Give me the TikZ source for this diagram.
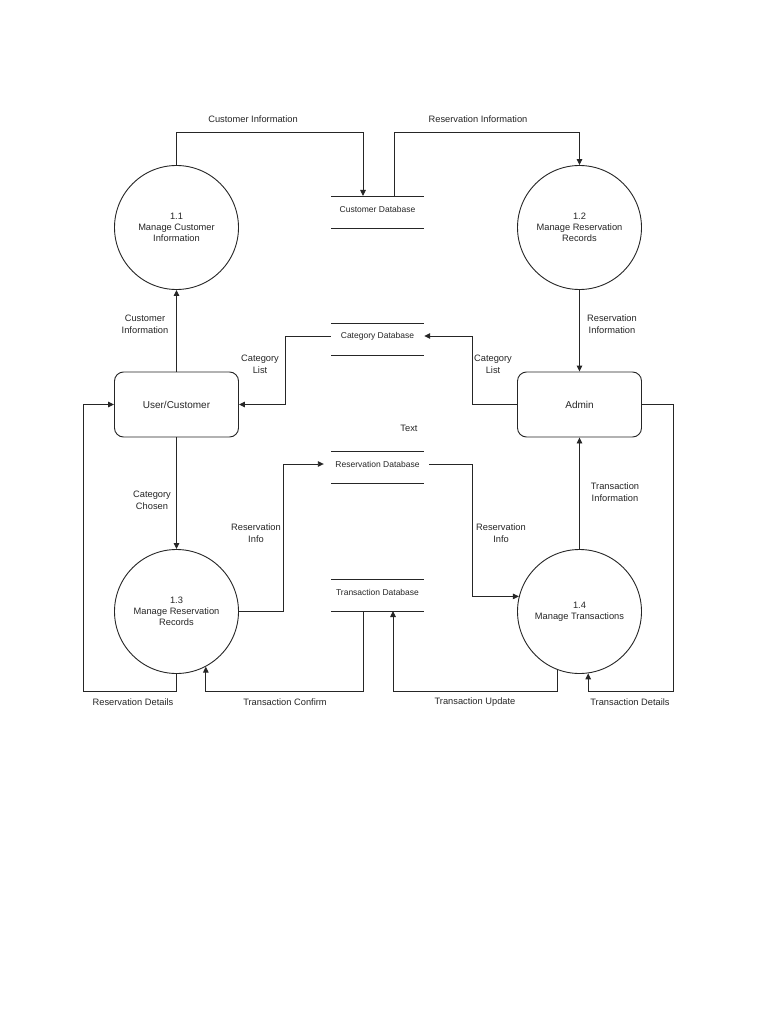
\documentclass[tikz,border=0pt]{standalone}
\usepackage{fontspec}
\setmainfont{Liberation Sans}
\usetikzlibrary{arrows.meta,calc}
\begin{document}
\begin{tikzpicture}[x=1pt,y=-1pt,
  every node/.style={text=black!85},
  flow/.style={draw=black!85, line width=0.9pt, -{Triangle[length=6pt,width=5.5pt]}},
  plain/.style={draw=black!85, line width=0.9pt},
  proc/.style={circle, draw=black!85, line width=0.9pt, minimum size=124pt, inner sep=0pt, align=center, font=\fontsize{9.3}{11}\selectfont},
  ent/.style={rectangle, rounded corners=9pt, draw=black!85, line width=0.9pt, minimum width=124pt, minimum height=65pt, font=\fontsize{10}{12}\selectfont},
  db/.style={minimum width=93pt, minimum height=14pt, inner sep=0pt, font=\fontsize{8.5}{10}\selectfont},
  lbl/.style={align=center, font=\fontsize{9.3}{12}\selectfont, inner sep=0pt}]
\fill[white] (0,0) rectangle (768,1024);
\useasboundingbox (0,0) rectangle (768,1024);

% processes
\node[proc] (c11) at (176.5,227.5) {1.1\\Manage Customer\\Information};
\node[proc] (c12) at (579.5,227.5) {1.2\\Manage Reservation\\Records};
\node[proc] (c13) at (176.5,611.5) {1.3\\Manage Reservation\\Records};
\node[proc] (c14) at (579.5,611.5) {1.4\\Manage Transactions};

% entities
\node[ent] (user) at (176.5,404.5) {User/Customer};
\node[ent] (admin) at (579.5,404.5) {Admin};

% data stores
\node[db] (cdb) at (377.5,209) {Customer Database};
\node[db] (catdb) at (377.5,336) {Category Database};
\node[db] (rdb) at (377.5,464) {Reservation Database};
\node[db] (tdb) at (377.5,592) {Transaction Database};
\foreach \n in {cdb,catdb,rdb,tdb}{
  \draw[plain] ($(\n.center)+(-46.5,-13)$) -- ++(93,0);
  \draw[plain] ($(\n.center)+(-46.5,19)$) -- ++(93,0);
}

% helper coordinates
\coordinate (ytop) at (0,132);
\coordinate (ybot) at (0,691);
\coordinate (cdbin) at ($(cdb.center)+(-14.5,-13)$);
\coordinate (cdbout) at ($(cdb.center)+(16.5,-13)$);
\coordinate (xcl) at (285,0);
\coordinate (xcr) at (472,0);
\coordinate (xri) at (283,0);
\coordinate (xrr) at (472,0);
\coordinate (rdbin) at ($(rdb.west)+(-7,0)$);
\coordinate (rdbout) at ($(rdb.east)+(5,0)$);
\coordinate (tdbout) at ($(tdb.center)+(-14.5,19)$);
\coordinate (tdbin) at ($(tdb.center)+(15.5,19)$);
\coordinate (xlt) at (83,0);
\coordinate (xrt) at (673,0);

% flows
\draw[flow] (c11.north) |- (cdbin |- ytop) -- (cdbin);
\draw[flow] (cdbout) |- (c12.north |- ytop) -- (c12.north);
\draw[flow] (user.north) -- (c11.south);
\draw[flow] (c12.south) -- (admin.north);
\draw[flow] (catdb.west) -| (xcl |- user.east) -- (user.east);
\draw[flow] (admin.west) -| (xcr |- catdb.east) -- (catdb.east);
\draw[flow] (user.south) -- (c13.north);
\draw[flow] (c14.north) -- (admin.south);
\draw[flow] (c13.east) -| (xri |- rdb.west) -- (rdbin);
\draw[flow] (rdbout) -| (xrr |- c14.166) -- (c14.166);
\draw[flow] (tdbout) |- (c13.298 |- ybot) -- (c13.298);
\draw[flow] (c14.249) |- (tdbin |- ybot) -- (tdbin);
\draw[flow] (admin.east) -| (xrt |- ybot) -| (c14.278);
\draw[flow] (c13.south) |- (xlt |- ybot) |- (user.west);

% labels
\node[lbl] (l1) at (253,119) {Customer Information};
\node[lbl] (l2) at (478,119) {Reservation Information};
\node[lbl] (l3) at (145,324) {Customer\\Information};
\node[lbl] (l4) at (612,324) {Reservation\\Information};
\node[lbl] (l5) at (260,364.5) {Category\\List};
\node[lbl] (l6) at (493,364.5) {Category\\List};
\node[lbl] (l7) at (409,428) {Text};
\node[lbl] (l8) at (152,500) {Category\\Chosen};
\node[lbl] (l9) at (256,533) {Reservation\\Info};
\node[lbl] (l10) at (501,533) {Reservation\\Info};
\node[lbl] (l11) at (615,492) {Transaction\\Information};
\node[lbl] (l12) at (133,702) {Reservation Details};
\node[lbl] (l13) at (285,702) {Transaction Confirm};
\node[lbl] (l14) at (475,702) {Transaction Update};
\node[lbl] (l15) at (630,702) {Transaction Details};
\end{tikzpicture}
\end{document}
